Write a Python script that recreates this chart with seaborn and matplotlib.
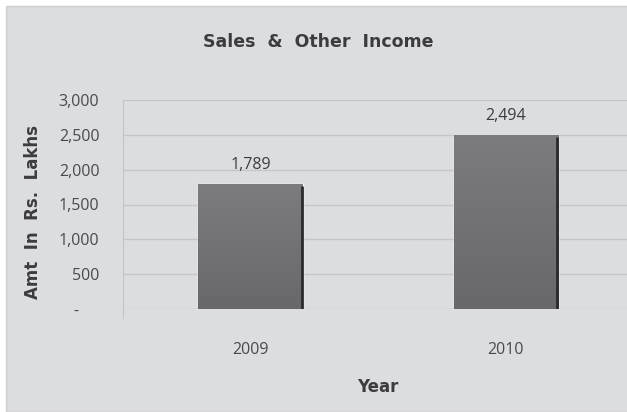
import matplotlib
matplotlib.use("Agg")
import matplotlib.pyplot as plt
import numpy as np
import pandas as pd
import seaborn as sns
from matplotlib.patches import Rectangle
from matplotlib.colors import LinearSegmentedColormap

years = ["2009", "2010"]
values = [1789, 2494]
value_labels = ["1,789", "2,494"]
ytick_values = [0, 500, 1000, 1500, 2000, 2500, 3000]
ytick_labels = ["-     ", "500", "1,000", "1,500", "2,000", "2,500", "3,000"]

BG = "#dcdddf"
GRID = "#c6c6c8"
TXT = "#3c3c3e"

sns.set_theme(style="white")
plt.rcParams["font.family"] = ["Open Sans", "DejaVu Sans"]

fig = plt.figure(figsize=(6.27, 4.12), dpi=100)
fig.patch.set_facecolor("white")
fig.patches.append(Rectangle((6 / 627, 0), 1, 406 / 412, transform=fig.transFigure,
                             facecolor=BG, edgecolor="#cdcdcf", lw=1.0, zorder=-10))

ax = fig.add_axes([123 / 627, 103 / 412, 510.5 / 627, 209 / 412])
ax.set_facecolor(BG)

df = pd.DataFrame({"Year": years, "Value": values})
sns.barplot(data=df, x="Year", y="Value", color="#707072", width=0.41,
            saturation=1, ax=ax, zorder=3)

# gradient fill + shadow on right edge
grad = np.linspace(0, 1, 256).reshape(-1, 1)
cmap = LinearSegmentedColormap.from_list("g", ["#68686a", "#7c7c7e"])
for p in ax.patches:
    x0, y0 = p.get_x(), p.get_y()
    w, h = p.get_width(), p.get_height()
    im = ax.imshow(grad, extent=[x0, x0 + w, y0, y0 + h], origin="lower",
                   cmap=cmap, aspect="auto", zorder=3.5)
    im.set_clip_path(p)
    ax.plot([x0 + w - 0.005, x0 + w - 0.005], [y0, y0 + h * 0.99], color="#2a2a2c",
            lw=2.0, zorder=4, solid_capstyle="butt")

for i, (v, lab) in enumerate(zip(values, value_labels)):
    ax.annotate(lab, (i, v), xytext=(0, 8), textcoords="offset points",
                ha="center", va="bottom", fontsize=11.5, color=TXT)

ax.set_xlim(-0.5, 1.5)
ax.set_ylim(0, 3000)
ax.set_yticks(ytick_values)
ax.set_yticklabels(ytick_labels, fontsize=11.5, color="#4a4a4c")
ax.set_xticks([0, 1])
ax.set_xticklabels(years, fontsize=11.5, color="#4a4a4c")
ax.set_xticks([-0.5, 0.5, 1.5], minor=True)
ax.tick_params(axis="x", which="major", length=0, pad=24)
ax.tick_params(axis="x", which="minor", length=9, width=0.8, color=GRID, direction="out")
ax.tick_params(axis="y", which="major", length=6, width=0.8, color=GRID, pad=11)

ax.yaxis.grid(True, color=GRID, lw=1.0, zorder=0)
ax.set_axisbelow(True)
for s in ["top", "right", "bottom"]:
    ax.spines[s].set_visible(False)
ax.spines["left"].set_color(GRID)
ax.spines["left"].set_linewidth(0.9)
ax.spines["left"].set_bounds(-130, 3000)
ax.spines["left"].set_clip_on(False)

ax.set_xlabel("")
ax.set_ylabel("")
fig.text(378 / 627, 1 - 387 / 412, "Year", ha="center", va="center",
         fontsize=12, fontweight="bold", color=TXT, family=["DejaVu Sans"])
fig.text(33 / 627, 1 - 212 / 412, "Amt  In  Rs.  Lakhs", ha="center", va="center",
         rotation=90, fontsize=12, fontweight="bold", color=TXT, family=["DejaVu Sans"])
fig.text(318 / 627, 1 - 42 / 412, "Sales  &  Other  Income", ha="center", va="center",
         fontsize=12.5, fontweight="bold", color=TXT, family=["DejaVu Sans"])

fig.savefig("out.png", dpi=100, facecolor=fig.get_facecolor())
